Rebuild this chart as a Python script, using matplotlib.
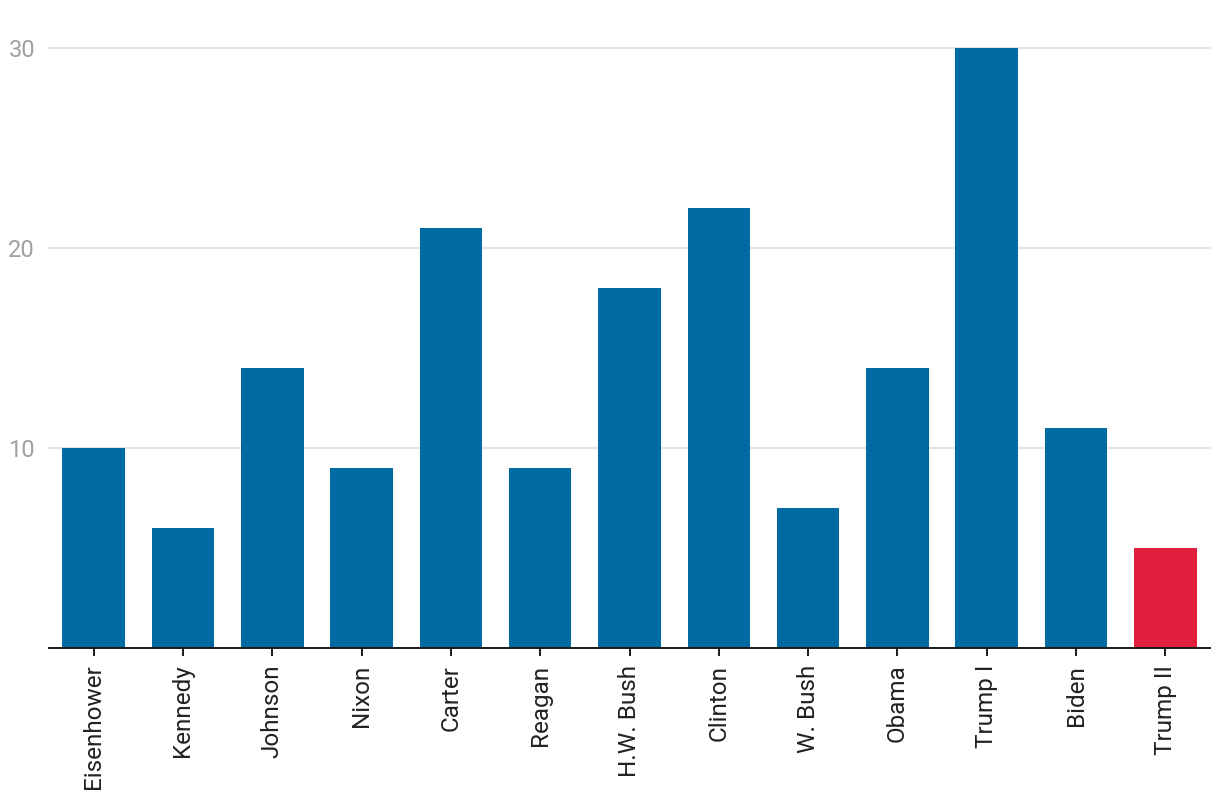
import matplotlib.pyplot as plt

presidents = ["Eisenhower", "Kennedy", "Johnson", "Nixon", "Carter", "Reagan",
              "H.W. Bush", "Clinton", "W. Bush", "Obama", "Trump I", "Biden", "Trump II"]
counts = [10, 6, 14, 9, 21, 9, 18, 22, 7, 14, 30, 11, 5]
yticks = [10, 20, 30]

blue = "#006ba2"
red = "#e0203c"
colors = [blue] * (len(presidents) - 1) + [red]

plt.rcParams['font.family'] = ['Roboto', 'DejaVu Sans']

fig = plt.figure(figsize=(12.2, 8.08), dpi=100)
ax = fig.add_axes([49 / 1220, 160 / 808, 1161 / 1220, 600 / 808])

x = range(len(presidents))
ax.bar(x, counts, width=0.7, color=colors, zorder=2)

ax.set_xlim(-0.5, len(presidents) - 0.5)
ax.set_ylim(0, 30)
ax.set_yticks(yticks)
ax.set_yticklabels([str(v) for v in yticks])
ax.set_xticks(list(x))
ax.set_xticklabels(presidents, rotation=90, fontsize=17.5, color="#222222")

for v in yticks:
    ax.axhline(v, color="#e3e3e3", lw=1.5, zorder=1, clip_on=False)

for s in ["top", "right", "left"]:
    ax.spines[s].set_visible(False)
ax.spines["bottom"].set_linewidth(1.4)
ax.spines["bottom"].set_color("#1a1a1a")
ax.spines["bottom"].set_zorder(3)

ax.tick_params(axis="y", length=0, pad=10, labelsize=17, labelcolor="#a0a0a0")
ax.tick_params(axis="x", length=6, width=1.4, color="#1a1a1a", pad=6)

fig.savefig("out.png", dpi=100)
